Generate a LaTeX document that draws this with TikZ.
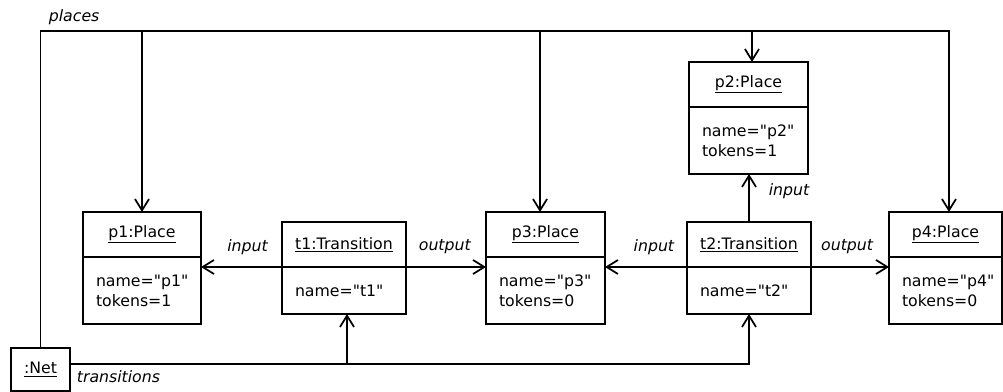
\documentclass[tikz,border=0pt]{standalone}
\usepackage{fontspec}
\setmainfont{DejaVu Sans}[Ligatures=TeXOff]
\usetikzlibrary{arrows.meta}
\usetikzlibrary{positioning}

\begin{document}
\begin{tikzpicture}[->, >={Straight Barb[length=8.5pt,width=10.5pt]}, x=0.75pt, y=-0.75pt, line width=1.3pt,
  font=\fontsize{11.8}{15}\selectfont,
  objhead/.style={draw, line width=1.5pt, outer sep=0pt, inner sep=0pt, minimum height=33.75pt, minimum width=#1},
  objbody/.style={draw, line width=1.5pt, outer sep=0pt, inner xsep=9.75pt, inner ysep=0pt, align=left, text width=#1, minimum height=50.25pt},
  short/.style={minimum height=35.25pt}]
  \tikzstyle{lbl}=[font=\fontsize{11.8}{15}\selectfont\itshape, inner sep=0pt]

  \path[use as bounding box] (0,0) rectangle (1003,392);

  % places
  \node[objhead=88.5pt] (p1h) at (142,234.5) {\underline{p1:Place}};
  \node[objbody=69pt, below=0pt of p1h] (p1b) {name="p1"\\tokens=1};
  \node[objhead=89.25pt] (p3h) at (545.5,234.5) {\underline{p3:Place}};
  \node[objbody=69.75pt, below=0pt of p3h] (p3b) {name="p3"\\tokens=0};
  \node[objhead=84.75pt] (p4h) at (945.5,234.5) {\underline{p4:Place}};
  \node[objbody=65.25pt, below=0pt of p4h] (p4b) {name="p4"\\tokens=0};
  \node[objhead=89.25pt] (p2h) at (748.5,84.5) {\underline{p2:Place}};
  \node[objbody=69.75pt, below=0pt of p2h] (p2b) {name="p2"\\tokens=1};

  % transitions
  \node[objhead=93pt] (t1h) at (344,244.5) {\underline{t1:Transition}};
  \node[objbody=73.5pt, short, below=0pt of t1h] (t1b) {name="t1"};
  \node[objhead=93pt] (t2h) at (749,244.5) {\underline{t2:Transition}};
  \node[objbody=73.5pt, short, below=0pt of t2h] (t2b) {name="t2"};

  % net
  \node[draw, line width=1.5pt, outer sep=0pt, inner sep=0pt, minimum width=44.25pt, minimum height=32.25pt] (net) at (40.5,369.5) {\underline{:Net}};

  \coordinate (ptop) at (40,31);
  \coordinate (tbus) at (0,364);
  \coordinate (p4in) at ([xshift=2.6pt]p4h.north);
  \coordinate (p3in) at ([xshift=-4.1pt]p3h.north);
  \coordinate (p2in) at ([xshift=2.6pt]p2h.north);
  \coordinate (t1in) at ([xshift=2.25pt]t1b.south);

  % places bus
  \draw (net.north) |- (p4in |- ptop) -- (p4in);
  \draw (p1h.north |- ptop) -- (p1h.north);
  \draw (p3in |- ptop) -- (p3in);
  \draw (p2in |- ptop) -- (p2in);
  \node[lbl, anchor=west] (plbl) at ([xshift=6pt,yshift=10.5pt]ptop) {places};

  % transitions bus
  \draw (net.east |- tbus) -| (t2b.south)
    node[lbl, pos=0, anchor=west, xshift=4.5pt, yshift=-9.75pt] {transitions};
  \draw (t1in |- tbus) -- (t1in);

  % arcs
  \draw (t1b.north west) -- (t1b.north west -| p1b.east)
    node[lbl, pos=0, anchor=east, xshift=-10pt, yshift=15pt] {input};
  \draw (t1b.north east) -- (t1b.north east -| p3b.west)
    node[lbl, pos=0, anchor=west, xshift=9pt, yshift=15pt] {output};
  \draw (t2b.north west) -- (t2b.north west -| p3b.east)
    node[lbl, pos=0, anchor=east, xshift=-9pt, yshift=15pt] {input};
  \draw (t2b.north east) -- (t2b.north east -| p4b.west)
    node[lbl, pos=0, anchor=west, xshift=7pt, yshift=15pt] {output};
  \draw (t2h.north) -- (t2h.north |- p2b.south)
    node[lbl, pos=1, anchor=west, xshift=14.25pt, yshift=-12.75pt] {input};
\end{tikzpicture}
\end{document}
